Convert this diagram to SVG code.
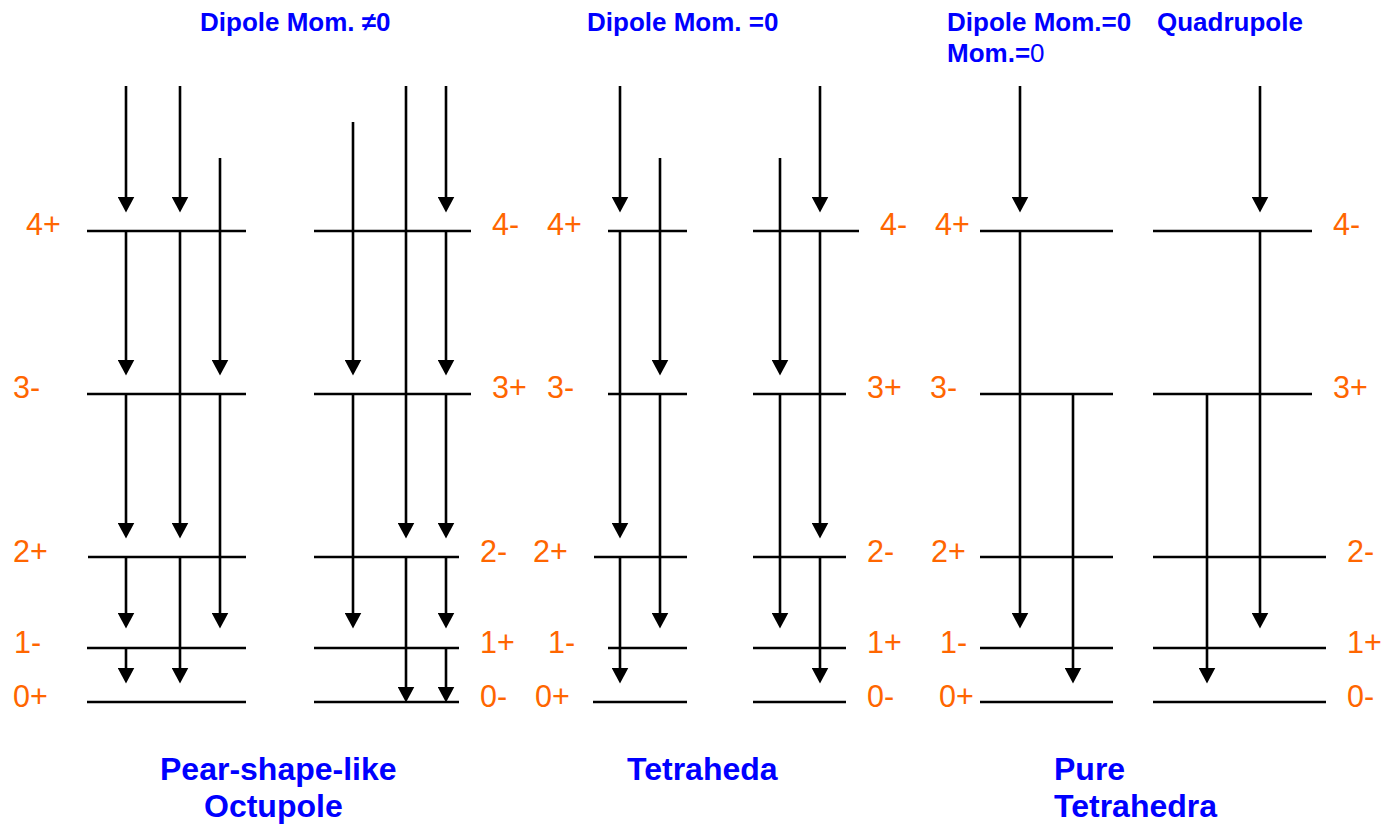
<svg xmlns="http://www.w3.org/2000/svg" width="1389" height="825" viewBox="0 0 1389 825">
<style>
.lv{stroke:#000;stroke-width:2.3;fill:none}
.arw{stroke:#000;stroke-width:2.6;fill:none;marker-end:url(#ah)}
.lb{font-family:"Liberation Sans",Arial,sans-serif;font-size:30.5px;fill:#FF6600}
.tt{font-family:"Liberation Sans",Arial,sans-serif;font-size:26px;font-weight:bold;fill:#0000FF}
.bt{font-family:"Liberation Sans",Arial,sans-serif;font-size:32px;font-weight:bold;fill:#0000FF}
</style>
<defs>
<marker id="ah" markerUnits="userSpaceOnUse" markerWidth="16" markerHeight="17" refX="7" refY="8" orient="auto" viewBox="0 0 15 16">
<path d="M0,0 L15,8 L0,16 z" fill="#000"/>
</marker>
</defs>
<rect width="1389" height="825" fill="#fff"/>

<g id="titles">
<text class="tt" x="200" y="31">Dipole Mom. ≠0</text>
<text class="tt" x="587" y="31">Dipole Mom. =0</text>
<text class="tt" x="947" y="31">Dipole Mom.=0</text>
<text class="tt" x="1157" y="31">Quadrupole</text>
<text class="tt" x="947" y="62">Mom.=<tspan font-weight="normal">0</tspan></text>
</g>

<g id="panel-a">
<line class="lv" x1="87" y1="231" x2="246" y2="231"/>
<line class="lv" x1="87" y1="394" x2="246" y2="394"/>
<line class="lv" x1="88" y1="557" x2="246" y2="557"/>
<line class="lv" x1="87" y1="648" x2="246" y2="648"/>
<line class="lv" x1="87" y1="702" x2="246" y2="702"/>
<text class="lb" x="26" y="235">4+</text>
<text class="lb" x="13" y="398">3-</text>
<text class="lb" x="13" y="561.5">2+</text>
<text class="lb" x="14" y="653">1-</text>
<text class="lb" x="13" y="707">0+</text>
</g>

<g id="panel-b">
<line class="lv" x1="314" y1="231" x2="471" y2="231"/>
<line class="lv" x1="314" y1="394" x2="471" y2="394"/>
<line class="lv" x1="314" y1="557" x2="459" y2="557"/>
<line class="lv" x1="314" y1="648" x2="459" y2="648"/>
<line class="lv" x1="314" y1="702" x2="459" y2="702"/>
<text class="lb" x="492" y="235">4-</text>
<text class="lb" x="492" y="398">3+</text>
<text class="lb" x="480" y="561.5">2-</text>
<text class="lb" x="480" y="653">1+</text>
<text class="lb" x="480" y="707">0-</text>
</g>

<g id="panel-c">
<line class="lv" x1="608" y1="231" x2="687" y2="231"/>
<line class="lv" x1="608" y1="394" x2="687" y2="394"/>
<line class="lv" x1="594" y1="557" x2="687" y2="557"/>
<line class="lv" x1="608" y1="648" x2="687" y2="648"/>
<line class="lv" x1="593" y1="702" x2="687" y2="702"/>
<text class="lb" x="547" y="235">4+</text>
<text class="lb" x="547" y="398">3-</text>
<text class="lb" x="533" y="561.5">2+</text>
<text class="lb" x="548" y="653">1-</text>
<text class="lb" x="535" y="707">0+</text>
</g>

<g id="panel-d">
<line class="lv" x1="753" y1="231" x2="859" y2="231"/>
<line class="lv" x1="753" y1="394" x2="846" y2="394"/>
<line class="lv" x1="753" y1="557" x2="846" y2="557"/>
<line class="lv" x1="753" y1="648" x2="846" y2="648"/>
<line class="lv" x1="753" y1="702" x2="846" y2="702"/>
<text class="lb" x="880" y="235">4-</text>
<text class="lb" x="867" y="398">3+</text>
<text class="lb" x="867" y="561.5">2-</text>
<text class="lb" x="867" y="653">1+</text>
<text class="lb" x="867" y="707">0-</text>
</g>

<g id="panel-e">
<line class="lv" x1="980" y1="231" x2="1113" y2="231"/>
<line class="lv" x1="980" y1="394" x2="1113" y2="394"/>
<line class="lv" x1="980" y1="557" x2="1113" y2="557"/>
<line class="lv" x1="980" y1="648" x2="1113" y2="648"/>
<line class="lv" x1="980" y1="702" x2="1113" y2="702"/>
<text class="lb" x="935" y="235">4+</text>
<text class="lb" x="930" y="398">3-</text>
<text class="lb" x="931" y="561.5">2+</text>
<text class="lb" x="940" y="653">1-</text>
<text class="lb" x="939" y="707">0+</text>
</g>

<g id="panel-f">
<line class="lv" x1="1153" y1="231" x2="1312" y2="231"/>
<line class="lv" x1="1153" y1="394" x2="1312" y2="394"/>
<line class="lv" x1="1153" y1="557" x2="1326" y2="557"/>
<line class="lv" x1="1153" y1="648" x2="1326" y2="648"/>
<line class="lv" x1="1153" y1="702" x2="1326" y2="702"/>
<text class="lb" x="1333" y="235">4-</text>
<text class="lb" x="1333" y="398">3+</text>
<text class="lb" x="1347" y="561.5">2-</text>
<text class="lb" x="1347" y="653">1+</text>
<text class="lb" x="1347" y="707">0-</text>
</g>

<g id="connectors">
<line class="arw" x1="126" y1="86" x2="126" y2="204"/>
<line class="arw" x1="126" y1="231" x2="126" y2="367"/>
<line class="arw" x1="126" y1="394" x2="126" y2="530"/>
<line class="arw" x1="126" y1="557" x2="126" y2="620"/>
<line class="arw" x1="126" y1="648" x2="126" y2="675"/>
<line class="arw" x1="180" y1="86" x2="180" y2="204"/>
<line class="arw" x1="180" y1="231" x2="180" y2="530"/>
<line class="arw" x1="180" y1="557" x2="180" y2="675"/>
<line class="arw" x1="220" y1="158" x2="220" y2="367"/>
<line class="arw" x1="220" y1="394" x2="220" y2="620"/>
<line class="arw" x1="353" y1="122" x2="353" y2="367"/>
<line class="arw" x1="353" y1="394" x2="353" y2="620"/>
<line class="arw" x1="406" y1="86" x2="406" y2="530"/>
<line class="arw" x1="406" y1="557" x2="406" y2="694"/>
<line class="arw" x1="446" y1="86" x2="446" y2="204"/>
<line class="arw" x1="446" y1="231" x2="446" y2="367"/>
<line class="arw" x1="446" y1="394" x2="446" y2="530"/>
<line class="arw" x1="446" y1="557" x2="446" y2="620"/>
<line class="arw" x1="446" y1="648" x2="446" y2="694"/>
<line class="arw" x1="620" y1="86" x2="620" y2="204"/>
<line class="arw" x1="620" y1="231" x2="620" y2="530"/>
<line class="arw" x1="620" y1="557" x2="620" y2="675"/>
<line class="arw" x1="660" y1="158" x2="660" y2="367"/>
<line class="arw" x1="660" y1="394" x2="660" y2="620"/>
<line class="arw" x1="780" y1="158" x2="780" y2="367"/>
<line class="arw" x1="780" y1="394" x2="780" y2="620"/>
<line class="arw" x1="820" y1="86" x2="820" y2="204"/>
<line class="arw" x1="820" y1="231" x2="820" y2="530"/>
<line class="arw" x1="820" y1="557" x2="820" y2="675"/>
<line class="arw" x1="1020" y1="86" x2="1020" y2="204"/>
<line class="arw" x1="1020" y1="231" x2="1020" y2="620"/>
<line class="arw" x1="1073" y1="394" x2="1073" y2="675"/>
<line class="arw" x1="1260" y1="86" x2="1260" y2="204"/>
<line class="arw" x1="1260" y1="231" x2="1260" y2="620"/>
<line class="arw" x1="1207" y1="394" x2="1207" y2="675"/>
</g>

<g id="captions">
<text class="bt" x="160" y="780">Pear-shape-like</text>
<text class="bt" x="204" y="817">Octupole</text>
<text class="bt" x="627" y="780">Tetraheda</text>
<text class="bt" x="1054" y="780">Pure</text>
<text class="bt" x="1054" y="817">Tetrahedra</text>
</g>
</svg>
